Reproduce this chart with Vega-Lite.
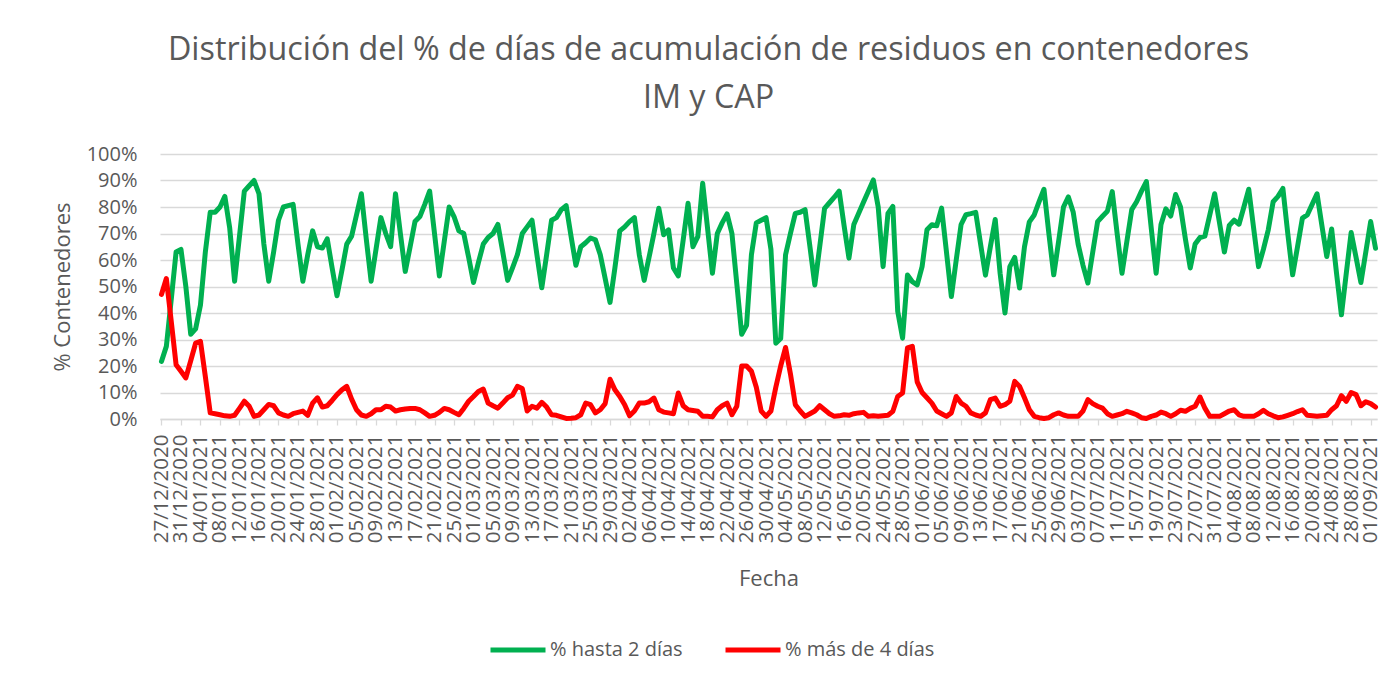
{
"$schema": "https://vega.github.io/schema/vega-lite/v6.json",
"autosize": {"type": "none"},
"width": 1217, "height": 265,
"padding": {"left": 160, "top": 154, "right": 19, "bottom": 261},
"background": "white",
"title": {"text": ["Distribución del % de días de acumulación de residuos en contenedores", "IM y CAP"], "anchor": "middle", "dx": -60, "font": "Open Sans", "fontSize": 32.3, "fontWeight": "normal", "color": "#595959", "lineHeight": 48, "offset": 30},
"data": {"values": [
{"f":"27/12/2020","g":21.7,"r":47},{"f":"28/12/2020","g":27.4,"r":53},{"f":"29/12/2020","g":45,"r":37},{"f":"30/12/2020","g":63,"r":20.5},{"f":"31/12/2020","g":64,"r":18},
{"f":"01/01/2021","g":50,"r":15.5},{"f":"02/01/2021","g":32,"r":22},{"f":"03/01/2021","g":34,"r":28.6},{"f":"04/01/2021","g":43,"r":29.3},{"f":"05/01/2021","g":63,"r":16},{"f":"06/01/2021","g":78,"r":2.3},{"f":"07/01/2021","g":78,"r":2},{"f":"08/01/2021","g":80,"r":1.6},{"f":"09/01/2021","g":84,"r":1.2},{"f":"10/01/2021","g":72,"r":1},{"f":"11/01/2021","g":52,"r":1.4},{"f":"12/01/2021","g":69,"r":4},{"f":"13/01/2021","g":86,"r":6.7},{"f":"14/01/2021","g":88,"r":4.8},{"f":"15/01/2021","g":90,"r":1},{"f":"16/01/2021","g":85,"r":1.5},{"f":"17/01/2021","g":66,"r":3.5},{"f":"18/01/2021","g":52,"r":5.5},{"f":"19/01/2021","g":63,"r":5},{"f":"20/01/2021","g":75,"r":2.3},{"f":"21/01/2021","g":80,"r":1.5},{"f":"22/01/2021","g":80.5,"r":1},{"f":"23/01/2021","g":81,"r":2},{"f":"24/01/2021","g":66,"r":2.5},{"f":"25/01/2021","g":52,"r":3},{"f":"26/01/2021","g":62,"r":1.4},{"f":"27/01/2021","g":71,"r":6},{"f":"28/01/2021","g":65,"r":8},{"f":"29/01/2021","g":64.5,"r":4.5},{"f":"30/01/2021","g":68,"r":5},{"f":"31/01/2021","g":57,"r":7},
{"f":"01/02/2021","g":46.5,"r":9.2},{"f":"02/02/2021","g":56,"r":11},{"f":"03/02/2021","g":66,"r":12.3},{"f":"04/02/2021","g":69,"r":7.5},{"f":"05/02/2021","g":77,"r":3.5},{"f":"06/02/2021","g":85,"r":1.5},{"f":"07/02/2021","g":68,"r":1},{"f":"08/02/2021","g":52,"r":2},{"f":"09/02/2021","g":64,"r":3.5},{"f":"10/02/2021","g":76,"r":3.5},{"f":"11/02/2021","g":70,"r":4.8},{"f":"12/02/2021","g":65,"r":4.5},{"f":"13/02/2021","g":85,"r":3},{"f":"14/02/2021","g":70,"r":3.5},{"f":"15/02/2021","g":55.7,"r":3.8},{"f":"16/02/2021","g":65,"r":4},{"f":"17/02/2021","g":74.5,"r":4},{"f":"18/02/2021","g":76.4,"r":3.5},{"f":"19/02/2021","g":81,"r":2.3},{"f":"20/02/2021","g":86,"r":1},{"f":"21/02/2021","g":70,"r":1.4},{"f":"22/02/2021","g":54,"r":2.5},{"f":"23/02/2021","g":67,"r":4},{"f":"24/02/2021","g":80,"r":3.5},{"f":"25/02/2021","g":76.4,"r":2.5},{"f":"26/02/2021","g":71,"r":1.6},{"f":"27/02/2021","g":70,"r":4},{"f":"28/02/2021","g":61,"r":6.7},
{"f":"01/03/2021","g":51.5,"r":8.5},{"f":"02/03/2021","g":59,"r":10.4},{"f":"03/03/2021","g":66,"r":11.3},{"f":"04/03/2021","g":68.5,"r":6},{"f":"05/03/2021","g":70,"r":5},{"f":"06/03/2021","g":73.4,"r":4.1},{"f":"07/03/2021","g":63,"r":6},{"f":"08/03/2021","g":52.3,"r":8},{"f":"09/03/2021","g":57,"r":9},{"f":"10/03/2021","g":62,"r":12.3},{"f":"11/03/2021","g":70,"r":11.5},{"f":"12/03/2021","g":72.5,"r":3},{"f":"13/03/2021","g":75,"r":4.8},{"f":"14/03/2021","g":62,"r":4.1},{"f":"15/03/2021","g":49.5,"r":6.3},{"f":"16/03/2021","g":62,"r":4.5},{"f":"17/03/2021","g":75,"r":1.6},{"f":"18/03/2021","g":76,"r":1.4},{"f":"19/03/2021","g":79,"r":0.8},{"f":"20/03/2021","g":80.5,"r":0.2},{"f":"21/03/2021","g":69,"r":0.3},{"f":"22/03/2021","g":58,"r":0.5},{"f":"23/03/2021","g":65,"r":1.6},{"f":"24/03/2021","g":66.5,"r":6},{"f":"25/03/2021","g":68.3,"r":5.4},{"f":"26/03/2021","g":67.6,"r":2.3},{"f":"27/03/2021","g":62,"r":3.5},{"f":"28/03/2021","g":53,"r":5.8},{"f":"29/03/2021","g":44,"r":15},{"f":"30/03/2021","g":57,"r":11},{"f":"31/03/2021","g":71,"r":8.5},
{"f":"01/04/2021","g":72.5,"r":5.4},{"f":"02/04/2021","g":74.5,"r":1.2},{"f":"03/04/2021","g":76,"r":3},{"f":"04/04/2021","g":62,"r":6},{"f":"05/04/2021","g":52.3,"r":6},{"f":"06/04/2021","g":61,"r":6.5},{"f":"07/04/2021","g":70,"r":7.9},{"f":"08/04/2021","g":79.5,"r":3.5},{"f":"09/04/2021","g":69.5,"r":2.6},{"f":"10/04/2021","g":71.4,"r":2.3},{"f":"11/04/2021","g":57,"r":2},{"f":"12/04/2021","g":54,"r":9.8},{"f":"13/04/2021","g":67.5,"r":5},{"f":"14/04/2021","g":81.4,"r":3.5},{"f":"15/04/2021","g":65,"r":3.2},{"f":"16/04/2021","g":68.8,"r":2.9},{"f":"17/04/2021","g":89,"r":1},{"f":"18/04/2021","g":72,"r":1},{"f":"19/04/2021","g":55,"r":0.8},{"f":"20/04/2021","g":70,"r":3.5},{"f":"21/04/2021","g":74,"r":5},{"f":"22/04/2021","g":77.4,"r":6},{"f":"23/04/2021","g":70,"r":1.6},{"f":"24/04/2021","g":51,"r":4.8},{"f":"25/04/2021","g":32,"r":20},{"f":"26/04/2021","g":35.4,"r":20},{"f":"27/04/2021","g":62,"r":18},{"f":"28/04/2021","g":74,"r":12},{"f":"29/04/2021","g":75,"r":3},{"f":"30/04/2021","g":76,"r":1},
{"f":"01/05/2021","g":64,"r":3},{"f":"02/05/2021","g":28.6,"r":12},{"f":"03/05/2021","g":30.4,"r":20},{"f":"04/05/2021","g":62,"r":27},{"f":"05/05/2021","g":70,"r":17},{"f":"06/05/2021","g":77.6,"r":5.4},{"f":"07/05/2021","g":78,"r":3},{"f":"08/05/2021","g":79,"r":1},{"f":"09/05/2021","g":65,"r":2},{"f":"10/05/2021","g":50.6,"r":3},{"f":"11/05/2021","g":65,"r":5},{"f":"12/05/2021","g":79.5,"r":3.5},{"f":"13/05/2021","g":81.6,"r":2},{"f":"14/05/2021","g":83.7,"r":1},{"f":"15/05/2021","g":86,"r":1.2},{"f":"16/05/2021","g":73,"r":1.6},{"f":"17/05/2021","g":60.7,"r":1.4},{"f":"18/05/2021","g":73.4,"r":2},{"f":"19/05/2021","g":77.6,"r":2.3},{"f":"20/05/2021","g":81.9,"r":2.5},{"f":"21/05/2021","g":86,"r":1},{"f":"22/05/2021","g":90.2,"r":1.2},{"f":"23/05/2021","g":80,"r":1},{"f":"24/05/2021","g":57.5,"r":1.2},{"f":"25/05/2021","g":77.6,"r":1.4},{"f":"26/05/2021","g":80.2,"r":2.9},{"f":"27/05/2021","g":40.6,"r":8.5},{"f":"28/05/2021","g":30.5,"r":9.8},{"f":"29/05/2021","g":54.3,"r":26.8},{"f":"30/05/2021","g":51.8,"r":27.4},{"f":"31/05/2021","g":50.6,"r":14},
{"f":"01/06/2021","g":57.5,"r":10},{"f":"02/06/2021","g":71.4,"r":8},{"f":"03/06/2021","g":73.3,"r":6},{"f":"04/06/2021","g":72.9,"r":3},{"f":"05/06/2021","g":79.6,"r":2},{"f":"06/06/2021","g":63,"r":1},{"f":"07/06/2021","g":46.2,"r":2.3},{"f":"08/06/2021","g":60,"r":8.5},{"f":"09/06/2021","g":73.4,"r":6},{"f":"10/06/2021","g":77.1,"r":4.8},{"f":"11/06/2021","g":77.5,"r":2.3},{"f":"12/06/2021","g":78,"r":1.5},{"f":"13/06/2021","g":66,"r":1},{"f":"14/06/2021","g":54.3,"r":2.3},{"f":"15/06/2021","g":65,"r":7.3},{"f":"16/06/2021","g":75.3,"r":7.9},{"f":"17/06/2021","g":55,"r":4.8},{"f":"18/06/2021","g":40,"r":5.4},{"f":"19/06/2021","g":57.5,"r":6.7},{"f":"20/06/2021","g":61,"r":14.2},{"f":"21/06/2021","g":49.4,"r":12.3},{"f":"22/06/2021","g":65,"r":8},{"f":"23/06/2021","g":74.4,"r":3.5},{"f":"24/06/2021","g":77,"r":1},{"f":"25/06/2021","g":82,"r":0.5},{"f":"26/06/2021","g":86.7,"r":0.2},{"f":"27/06/2021","g":70,"r":0.5},{"f":"28/06/2021","g":54.4,"r":1.6},{"f":"29/06/2021","g":67,"r":2.3},{"f":"30/06/2021","g":80,"r":1.5},
{"f":"01/07/2021","g":83.8,"r":1},{"f":"02/07/2021","g":78,"r":1},{"f":"03/07/2021","g":66,"r":1},{"f":"04/07/2021","g":58,"r":3},{"f":"05/07/2021","g":51.3,"r":7.3},{"f":"06/07/2021","g":63,"r":5.8},{"f":"07/07/2021","g":74.5,"r":4.8},{"f":"08/07/2021","g":76.5,"r":4.1},{"f":"09/07/2021","g":78.4,"r":2},{"f":"10/07/2021","g":85.8,"r":1},{"f":"11/07/2021","g":70,"r":1.5},{"f":"12/07/2021","g":55,"r":2},{"f":"13/07/2021","g":67,"r":2.9},{"f":"14/07/2021","g":79,"r":2.3},{"f":"15/07/2021","g":82,"r":1.6},{"f":"16/07/2021","g":86,"r":0.5},{"f":"17/07/2021","g":89.6,"r":0.2},{"f":"18/07/2021","g":72,"r":1},{"f":"19/07/2021","g":55,"r":1.5},{"f":"20/07/2021","g":73.4,"r":2.6},{"f":"21/07/2021","g":79.3,"r":2},{"f":"22/07/2021","g":76.6,"r":1},{"f":"23/07/2021","g":84.7,"r":2},{"f":"24/07/2021","g":80,"r":3.3},{"f":"25/07/2021","g":68,"r":2.9},{"f":"26/07/2021","g":57,"r":4},{"f":"27/07/2021","g":66,"r":4.8},{"f":"28/07/2021","g":68.5,"r":8.3},{"f":"29/07/2021","g":69,"r":4.1},{"f":"30/07/2021","g":77,"r":1},{"f":"31/07/2021","g":85,"r":1},
{"f":"01/08/2021","g":74,"r":1},{"f":"02/08/2021","g":63,"r":2},{"f":"03/08/2021","g":73,"r":3},{"f":"04/08/2021","g":75,"r":3.5},{"f":"05/08/2021","g":73.5,"r":1.6},{"f":"06/08/2021","g":80,"r":1},{"f":"07/08/2021","g":86.7,"r":1},{"f":"08/08/2021","g":72,"r":1},{"f":"09/08/2021","g":57.5,"r":2},{"f":"10/08/2021","g":64,"r":3.3},{"f":"11/08/2021","g":71.4,"r":2},{"f":"12/08/2021","g":82,"r":1.2},{"f":"13/08/2021","g":84,"r":0.5},{"f":"14/08/2021","g":87,"r":0.8},{"f":"15/08/2021","g":70,"r":1.4},{"f":"16/08/2021","g":54.4,"r":2},{"f":"17/08/2021","g":65,"r":2.8},{"f":"18/08/2021","g":75.8,"r":3.5},{"f":"19/08/2021","g":77,"r":1.4},{"f":"20/08/2021","g":81,"r":1.2},{"f":"21/08/2021","g":85,"r":1},{"f":"22/08/2021","g":73,"r":1.2},{"f":"23/08/2021","g":61.3,"r":1.4},{"f":"24/08/2021","g":71.7,"r":3.5},{"f":"25/08/2021","g":55,"r":5},{"f":"26/08/2021","g":39.3,"r":8.8},{"f":"27/08/2021","g":55,"r":6.7},{"f":"28/08/2021","g":70.4,"r":10},{"f":"29/08/2021","g":61,"r":9.2},{"f":"30/08/2021","g":51.5,"r":5},{"f":"31/08/2021","g":63,"r":6.5},
{"f":"01/09/2021","g":74.5,"r":5.8},{"f":"02/09/2021","g":64.4,"r":4.5}
]},
"transform": [{"fold": ["g", "r"], "as": ["serie", "valor"]}],
"mark": {"type": "line", "strokeWidth": 5, "strokeJoin": "round", "strokeCap": "round"},
"encoding": {
"x": {"field": "f", "type": "ordinal", "sort": null, "scale": {"type": "point", "padding": 0.3},
 "axis": {"title": "Fecha", "values": ["27/12/2020","31/12/2020","04/01/2021","08/01/2021","12/01/2021","16/01/2021","20/01/2021","24/01/2021","28/01/2021","01/02/2021","05/02/2021","09/02/2021","13/02/2021","17/02/2021","21/02/2021","25/02/2021","01/03/2021","05/03/2021","09/03/2021","13/03/2021","17/03/2021","21/03/2021","25/03/2021","29/03/2021","02/04/2021","06/04/2021","10/04/2021","14/04/2021","18/04/2021","22/04/2021","26/04/2021","30/04/2021","04/05/2021","08/05/2021","12/05/2021","16/05/2021","20/05/2021","24/05/2021","28/05/2021","01/06/2021","05/06/2021","09/06/2021","13/06/2021","17/06/2021","21/06/2021","25/06/2021","29/06/2021","03/07/2021","07/07/2021","11/07/2021","15/07/2021","19/07/2021","23/07/2021","27/07/2021","31/07/2021","04/08/2021","08/08/2021","12/08/2021","16/08/2021","20/08/2021","24/08/2021","28/08/2021","01/09/2021"],
  "labelAngle": -90, "labelAlign": "right", "labelBaseline": "middle", "labelFont": "Open Sans", "labelFontSize": 20.5, "labelColor": "#595959", "labelPadding": 9, "labelOverlap": false,
  "ticks": true, "tickColor": "#d9d9d9", "tickSize": 6, "tickWidth": 1.3, "domain": true, "domainColor": "#d9d9d9", "domainWidth": 1.3, "grid": false,
  "titleFont": "Open Sans", "titleFontSize": 22, "titleColor": "#595959", "titleFontWeight": "normal", "titlePadding": 26}},
"y": {"field": "valor", "type": "quantitative", "scale": {"domain": [0, 100]},
 "axis": {"title": "% Contenedores", "values": [0,10,20,30,40,50,60,70,80,90,100], "labelExpr": "datum.value + '%'", "labelFont": "Open Sans", "labelFontSize": 20, "labelColor": "#595959", "labelPadding": 23,
  "domain": false, "ticks": false, "tickSize": 0, "grid": true, "gridColor": "#d9d9d9", "gridWidth": 1.3,
  "titleFont": "Open Sans", "titleFontSize": 22, "titleColor": "#595959", "titleFontWeight": "normal", "titlePadding": 12}},
"color": {"field": "serie", "type": "nominal", "scale": {"domain": ["g", "r"], "range": ["#00B050", "#FF0000"]},
 "legend": {"orient": "none", "legendX": 328, "legendY": 466, "direction": "horizontal", "title": null, "symbolType": "stroke", "symbolStrokeWidth": 5, "symbolSize": 3025, "labelFont": "Open Sans", "labelFontSize": 20, "labelColor": "#595959", "labelOffset": 2, "columnPadding": 32,
  "labelExpr": "datum.label == 'g' ? '% hasta 2 días' : '% más de 4 días'"}}
},
"config": {"view": {"stroke": null}}
}
